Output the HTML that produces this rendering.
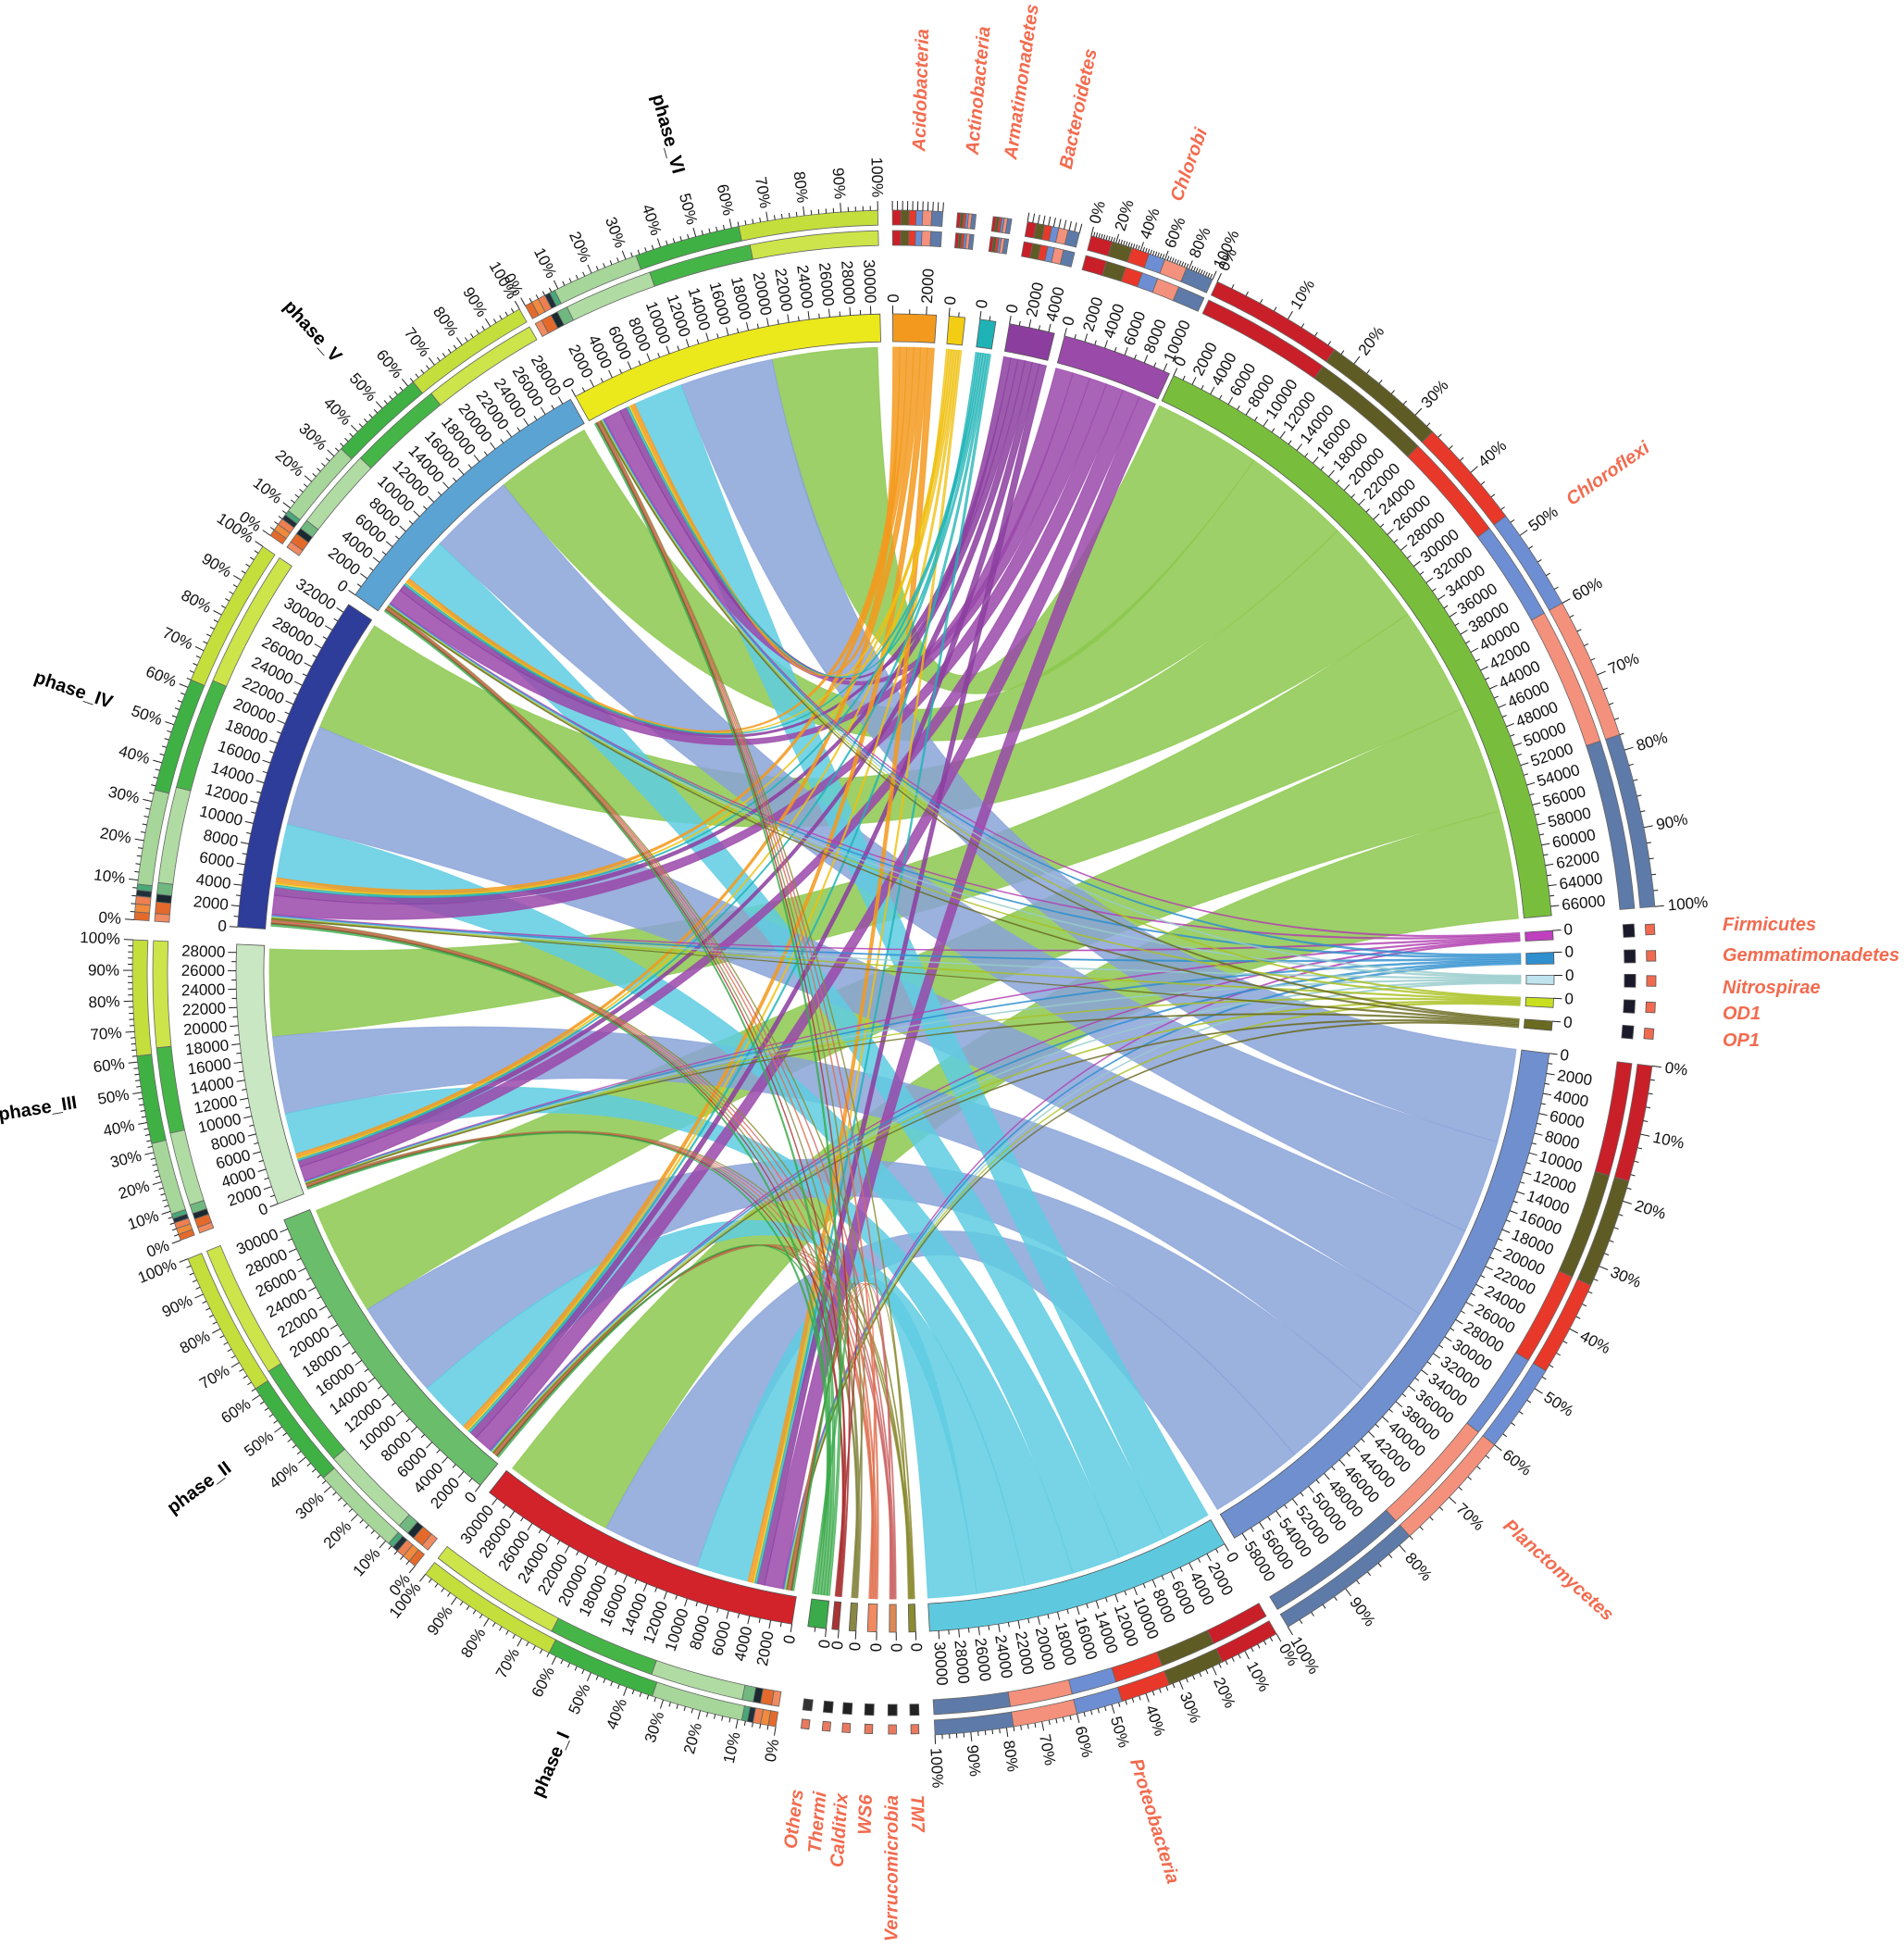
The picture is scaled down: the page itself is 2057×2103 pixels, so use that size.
<!DOCTYPE html>
<html><head><meta charset="utf-8"><style>
html,body{margin:0;padding:0;background:#fff;}
svg{display:block;font-family:"Liberation Sans",sans-serif;}
.nm{font-style:italic;font-weight:bold;fill:#f26b4f;font-size:20px;}
</style></head><body>
<svg id="s" width="2057" height="2103" viewBox="0 0 2057 2103" xmlns="http://www.w3.org/2000/svg">
<rect width="2057" height="2103" fill="#fff"/>
<g id="g"></g>
<text class="nm" x="1861" y="1005">Firmicutes</text>
<text class="nm" x="1861" y="1038">Gemmatimonadetes</text>
<text class="nm" x="1861" y="1073">Nitrospirae</text>
<text class="nm" x="1861" y="1101">OD1</text>
<text class="nm" x="1861" y="1130">OP1</text>
</svg>
<script>
const CX=967,CY=1051;
const R0=676,R1=682,R2=712;
function P(r,a){const t=(a-90)*Math.PI/180;return [CX+r*Math.cos(t),CY+r*Math.sin(t)];}
function f(p){return p[0].toFixed(1)+','+p[1].toFixed(1);}
function sector(r1,r2,a1,a2,col,st){const l=(a2-a1)>180?1:0;return `<path d="M${f(P(r2,a1))}A${r2},${r2} 0 ${l} 1 ${f(P(r2,a2))}L${f(P(r1,a2))}A${r1},${r1} 0 ${l} 0 ${f(P(r1,a1))}Z" fill="${col}" stroke="${st||'#555'}" stroke-width="0.8"/>`;}
function line(r1,r2,a,w){const p=P(r1,a),q=P(r2,a);return `<line x1="${p[0].toFixed(1)}" y1="${p[1].toFixed(1)}" x2="${q[0].toFixed(1)}" y2="${q[1].toFixed(1)}" stroke="#222" stroke-width="${w||1.2}"/>`;}
function rtext(r,a,txt,size,fill,extra){let an=((a%360)+360)%360;const right=an<180;const [x,y]=P(r,a);const rot=right?an-90:an+90;
return `<text x="${x.toFixed(1)}" y="${y.toFixed(1)}" transform="rotate(${rot.toFixed(2)} ${x.toFixed(1)} ${y.toFixed(1)})" text-anchor="${right?'start':'end'}" dominant-baseline="central" font-size="${size}" fill="${fill}" ${extra||''}>${txt}</text>`;}
function ribbon(a1,a2,b1,b2,col,op){const r=R0,c=`${CX},${CY}`;
return `<path d="M${f(P(r,a1))}A${r},${r} 0 0 1 ${f(P(r,a2))}Q${c} ${f(P(r,b1))}A${r},${r} 0 0 1 ${f(P(r,b2))}Q${c} ${f(P(r,a1))}Z" fill="${col}" fill-opacity="${op||.88}" stroke="${col}" stroke-opacity=".7" stroke-width="1"/>`;}

const phases=[
{n:'phase_VI',a1:331,a2:358.7,c:'#ebe81c',mx:30000},
{n:'phase_V',a1:305,a2:330.5,c:'#5ba3d3',mx:28000},
{n:'phase_IV',a1:274,a2:304,c:'#2e3c9a',mx:32000},
{n:'phase_III',a1:249.5,a2:272.5,c:'#c9e7c2',mx:28000},
{n:'phase_II',a1:219,a2:248,c:'#6abd6a',mx:30000},
{n:'phase_I',a1:189,a2:218,c:'#d2222a',mx:30000}];
const phyla=[
{n:'Chloroflexi',a1:25,a2:85,c:'#78be3c',rc:'#8cc84e',fr:.36,pct:1,mx:66000},
{n:'Planctomycetes',a1:97,a2:149,c:'#6f8fce',rc:'#8aa3d8',fr:.32,pct:1,mx:58000},
{n:'Proteobacteria',a1:150,a2:177,c:'#5ec9de',rc:'#5fcce2',fr:.17,pct:1,mx:30000},
{n:'Chlorobi',a1:14.9,a2:24.6,c:'#9a4aa8',rc:'#9a48aa',fr:.06,pct:1,mx:10000},
{n:'Bacteroidetes',a1:10,a2:14,c:'#8c3e9e',rc:'#8c3ea0',fr:.025,mx:4000},
{n:'Armatimonadetes',a1:7.4,a2:8.8,c:'#1fb3b6',rc:'#1fb3b6',fr:.007,mx:0},
{n:'Actinobacteria',a1:4.7,a2:6.1,c:'#f2cd14',rc:'#f0c010',fr:.007,mx:0},
{n:'Acidobacteria',a1:-0.2,a2:3.6,c:'#f39a1e',rc:'#f39a1e',fr:.016,mx:2000},
{n:'Firmicutes',a1:86.3,a2:87.1,c:'#c040c0',rc:'#b040b0',fr:.003,h:1,mx:0},
{n:'Gemmatimonadetes',a1:88.2,a2:89.2,c:'#2f8fcf',rc:'#2f8fcf',fr:.004,h:1,mx:0},
{n:'Nitrospirae',a1:90.2,a2:91.0,c:'#bfe4ee',rc:'#9cc',fr:.003,h:1,mx:0},
{n:'OD1',a1:92.2,a2:93.0,c:'#c8e020',rc:'#aac020',fr:.003,h:1,mx:0},
{n:'OP1',a1:94.2,a2:95.0,c:'#6a6a20',rc:'#6a6a20',fr:.003,h:1,mx:0},
{n:'TM7',a1:178.2,a2:178.8,c:'#8a8a30',rc:'#8a8a30',fr:.003,mx:0},
{n:'Verrucomicrobia',a1:179.9,a2:180.5,c:'#d85',rc:'#c66',fr:.003,mx:0},
{n:'WS6',a1:181.6,a2:182.4,c:'#f08a60',rc:'#e07050',fr:.003,mx:0},
{n:'Calditrix',a1:183.4,a2:184.0,c:'#884',rc:'#884',fr:.003,mx:0},
{n:'Thermi',a1:184.9,a2:185.5,c:'#a33',rc:'#a33',fr:.003,mx:0},
{n:'Others',a1:186.0,a2:187.6,c:'#3aaa4a',rc:'#3aaa4a',fr:.006,mx:0}];
let g='';
let tot=phyla.reduce((s,p)=>s+p.fr,0);
const order=['Others','Thermi','Calditrix','WS6','Verrucomicrobia','TM7','OP1','OD1','Nitrospirae','Gemmatimonadetes','Firmicutes','Chlorobi','Bacteroidetes','Armatimonadetes','Actinobacteria','Acidobacteria','Proteobacteria','Planctomycetes','Chloroflexi'];
const drawOrder=['Chloroflexi','Planctomycetes','Proteobacteria','Chlorobi','Bacteroidetes','Acidobacteria','Actinobacteria','Armatimonadetes','Firmicutes','Gemmatimonadetes','Nitrospirae','OD1','OP1','TM7','Verrucomicrobia','WS6','Calditrix','Thermi','Others'];
const byN={};phyla.forEach(p=>byN[p.n]=p);
const rib={};
phases.forEach((ph,pi)=>{let a=ph.a1+0.3;const span=ph.a2-ph.a1-0.6;
 order.forEach(n=>{const p=byN[n];const w=span*p.fr/tot;const pw=(p.a2-p.a1)/6;const b1=p.a1+pw*pi;
  (rib[n]=rib[n]||[]).push([a,a+w,b1,b1+pw]);a+=w;});});
drawOrder.forEach(n=>{const p=byN[n];const small=p.fr<0.01;rib[n].forEach(r=>{g+=ribbon(r[0],r[1],r[2],r[3],p.rc,small?.7:.85);});});
const segs=phases.concat(phyla);
segs.forEach(s=>{g+=sector(R1,R2,s.a1,s.a2,s.c);});
// ticks with per-segment scale
segs.forEach(s=>{const span=s.a2-s.a1;const K=s.mx>0?span/(s.mx+(s.mx>=20000?900:600)):1;
 if(s.mx==0){g+=line(R2,R2+9,s.a1,1);g+=rtext(R2+12,s.a1,0,17,'#111');if(span>1)g+=line(R2,R2+5,s.a1+span*0.6,1);return;}
 for(let v=0;v<=s.mx+1000;v+=1000){const a=s.a1+v*K;if(a>s.a2+0.02)break;const maj=v%2000==0;g+=line(R2,R2+(maj?9:5),a,1);if(maj&&v<=s.mx)g+=rtext(R2+12,a,v,17,'#111');}});
const phCols=[[0,.02,'#e46a2c'],[.02,.04,'#f08a3c'],[.04,.06,'#ee7f50'],[.06,.075,'#20303a'],[.075,.09,'#48a878'],[.09,.33,'#a6d69a'],[.33,.62,'#3fb044'],[.62,1,'#c4de3c']];
const phCols2=[[0,.02,'#f08a60'],[.02,.05,'#e46a2c'],[.05,.07,'#1a2a30'],[.07,.1,'#70b880'],[.1,.35,'#b0dca4'],[.35,.64,'#46b548'],[.64,1,'#cde44a']];
const pyCols=[[0,.17,'#c91f28'],[.17,.33,'#5f5b24'],[.33,.47,'#e8382a'],[.47,.6,'#6e8ed3'],[.6,.78,'#f4917c'],[.78,1,'#5d7aa8']];
function bars(s,cols,r1,r2){cols.forEach(c=>{const a1=s.a1+(s.a2-s.a1)*c[0],a2=s.a1+(s.a2-s.a1)*c[1];g+=sector(r1,r2,a1,a2,c[2],'#666');});}
phases.forEach(s=>{bars(s,phCols2,786,802);bars(s,phCols,808,824);});
phyla.forEach(s=>{if(s.h){const m=(s.a1+s.a2)/2;g+=sector(788,800,m-0.5,m+0.5,'#1a1a2a');g+=sector(812,822,m-0.4,m+0.4,'#f06a50');return;}
 if(['TM7','Verrucomicrobia','WS6','Calditrix','Thermi','Others'].includes(s.n)){const m=(s.a1+s.a2)/2;g+=sector(790,802,m-0.35,m+0.35,s.n=='Others'?'#333':'#222');g+=sector(812,822,m-0.3,m+0.3,'#e87a60');return;}
 bars(s,pyCols,786,802);bars(s,pyCols,808,824);});
segs.forEach(s=>{if(s.h||(s.a2-s.a1)<3)return;if(!(s.pct||phases.includes(s))){for(let i=0;i<=10;i++)g+=line(824,834,s.a1+(s.a2-s.a1)*i/10,1);return;}
 const step=(s.n=='Chlorobi')?20:10;for(let i=0;i<=100;i+=2){const a=s.a1+(s.a2-s.a1)*i/100;const maj=i%step==0;g+=line(824,maj?834:829,a,1);if(maj)g+=rtext(838,a,i+'%',17,'#111');}});
phases.forEach(s=>{g+=rtext(895,(s.a1+s.a2)/2,s.n,20,'#000','font-weight="bold"');});
const nameAng={Chloroflexi:55,Planctomycetes:132,Proteobacteria:163,Chlorobi:20,Bacteroidetes:12,Armatimonadetes:8.1,Actinobacteria:5.4,Acidobacteria:1.7,TM7:178.5,Verrucomicrobia:180.2,WS6:182,Calditrix:183.7,Thermi:185.2,Others:186.8};
for(const n in nameAng){g+=rtext(888,nameAng[n],n,20,'#f26b4f','font-style="italic" font-weight="bold"');}
document.getElementById('g').innerHTML=g;
</script>
</body></html>
